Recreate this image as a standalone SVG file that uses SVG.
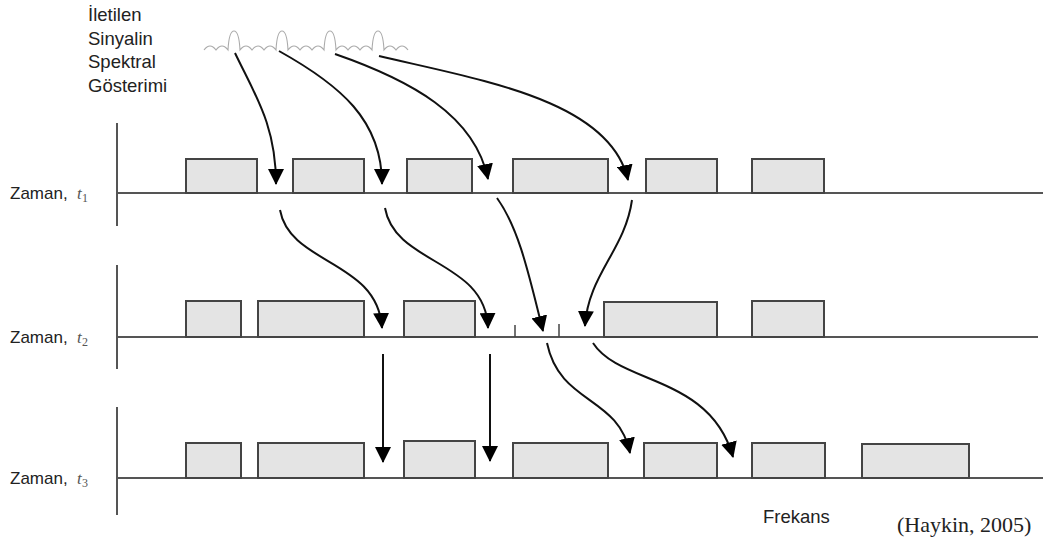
<svg xmlns="http://www.w3.org/2000/svg" width="1051" height="543" viewBox="0 0 1051 543">
  <style>
    .lbl { font-family: "Liberation Sans", Arial, sans-serif; font-size: 18.5px; fill: #222; }
    .row { font-family: "Liberation Sans", Arial, sans-serif; font-size: 17px; fill: #222; }
    .var { font-family: "Liberation Serif", "Times New Roman", serif; font-style: italic; font-size: 17px; fill: #555; }
    .sub { font-family: "Liberation Serif", "Times New Roman", serif; font-size: 12px; fill: #555; }
    .cite { font-family: "Liberation Serif", "Times New Roman", serif; font-size: 22px; fill: #222; }
    .axis { stroke: #555; stroke-width: 2; fill: none; }
    .band { fill: #e4e4e4; stroke: #444; stroke-width: 2; }
    .tick { stroke: #444; stroke-width: 1.5; }
    .hop { stroke: #111; stroke-width: 2; fill: none; marker-end: url(#head); }
    .spec { stroke: #aaa; stroke-width: 1.1; fill: none; }
  </style>
  <defs>
    <marker id="head" markerUnits="userSpaceOnUse" viewBox="0 0 16 16" markerWidth="16" markerHeight="16" refX="15" refY="8" orient="auto">
      <path d="M0,0 L16,8 L0,16 z" fill="#000"/>
    </marker>
  </defs>

  <!-- spectrum caption -->
  <g id="caption">
    <text class="lbl" x="88" y="21">İletilen</text>
    <text class="lbl" x="88" y="45">Sinyalin</text>
    <text class="lbl" x="88" y="68">Spektral</text>
    <text class="lbl" x="88" y="92">Gösterimi</text>
  </g>

  <!-- transmitted signal spectrum sketch -->
  <g id="spectrum">
    <path class="spec" d="M204,50 Q210,42 216,50 Q222,42 228,50 Q229,31 234,31 Q239,31 240,50 Q246,42 252,50 Q258,42 264,50 Q270,42 276,50 Q277,31 282,31 Q287,31 288,50 Q294,42 300,50 Q306,42 312,50 Q318,42 324,50 Q325,31 330,31 Q335,31 336,50 Q342,42 348,50 Q354,42 360,50 Q366,42 372,50 Q373,31 378,31 Q383,31 384,50 Q390,42 396,50 Q402,42 408,50"/>
  </g>

  <!-- time slot t1 -->
  <g id="slot-t1">
    <line class="axis" x1="117" y1="123" x2="117" y2="226"/>
    <line class="axis" x1="117" y1="193" x2="1043" y2="193"/>
    <rect class="band" x="186" y="159" width="71" height="34"/>
    <rect class="band" x="293" y="159" width="71" height="34"/>
    <rect class="band" x="407" y="159" width="65" height="34"/>
    <rect class="band" x="513" y="159" width="95" height="34"/>
    <rect class="band" x="646" y="159" width="71" height="34"/>
    <rect class="band" x="752" y="159" width="72" height="34"/>
    <text class="row" x="10" y="199">Zaman,</text>
    <text class="var" x="77" y="199">t</text>
    <text class="sub" x="82" y="202">1</text>
  </g>

  <!-- time slot t2 -->
  <g id="slot-t2">
    <line class="axis" x1="117" y1="265" x2="117" y2="369"/>
    <line class="axis" x1="117" y1="337" x2="1038" y2="337"/>
    <rect class="band" x="186" y="301" width="55" height="36"/>
    <rect class="band" x="258" y="301" width="106" height="36"/>
    <rect class="band" x="404" y="301" width="71" height="36"/>
    <rect class="band" x="604" y="302" width="113" height="35"/>
    <rect class="band" x="752" y="301" width="72" height="36"/>
    <line class="tick" x1="515" y1="325" x2="515" y2="337"/>
    <line class="tick" x1="559" y1="324" x2="559" y2="337"/>
    <text class="row" x="10" y="343">Zaman,</text>
    <text class="var" x="77" y="343">t</text>
    <text class="sub" x="82" y="346">2</text>
  </g>

  <!-- time slot t3 -->
  <g id="slot-t3">
    <line class="axis" x1="117" y1="407" x2="117" y2="515"/>
    <line class="axis" x1="117" y1="478" x2="1043" y2="478"/>
    <rect class="band" x="186" y="443" width="55" height="35"/>
    <rect class="band" x="258" y="443" width="106" height="35"/>
    <rect class="band" x="404" y="441" width="71" height="37"/>
    <rect class="band" x="513" y="443" width="95" height="35"/>
    <rect class="band" x="644" y="443" width="73" height="35"/>
    <rect class="band" x="752" y="443" width="73" height="35"/>
    <rect class="band" x="862" y="444" width="107" height="34"/>
    <text class="row" x="10" y="484">Zaman,</text>
    <text class="var" x="77" y="484">t</text>
    <text class="sub" x="82" y="487">3</text>
  </g>

  <g id="axis-labels">
    <text class="lbl" x="763" y="523">Frekans</text>
    <text class="cite" x="897" y="532">(Haykin, 2005)</text>
  </g>

  <!-- frequency hops -->
  <g id="connectors">
    <path class="hop" d="M235,53 C255,95 276,125 276,184"/>
    <path class="hop" d="M279,51 C340,85 382,120 382,184"/>
    <path class="hop" d="M335,54 C410,80 475,115 488,179"/>
    <path class="hop" d="M379,56 C480,80 610,100 628,180"/>

    <path class="hop" d="M280,210 C290,265 378,260 382,328"/>
    <path class="hop" d="M385,208 C395,265 486,260 488,328"/>
    <path class="hop" d="M497,198 C520,230 530,280 543,331"/>
    <path class="hop" d="M632,200 C625,250 588,275 585,326"/>

    <path class="hop" d="M383,354 L383,462"/>
    <path class="hop" d="M490,354 L490,461"/>
    <path class="hop" d="M547,343 C560,405 618,395 630,453"/>
    <path class="hop" d="M593,343 C620,385 710,375 733,457"/>
  </g>
</svg>
